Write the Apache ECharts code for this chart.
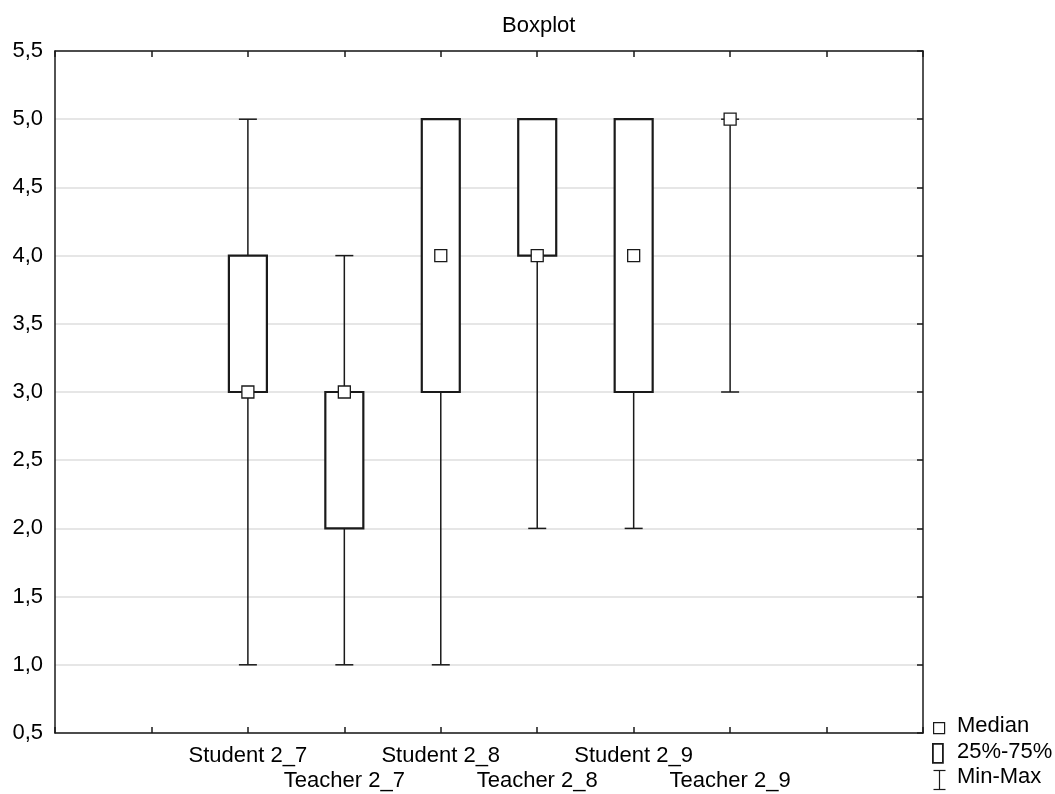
<!DOCTYPE html>
<html>
<head>
<meta charset="utf-8">
<script src="https://cdn.jsdelivr.net/npm/echarts@6/dist/echarts.min.js"></script>
<style>
  html, body { margin: 0; padding: 0; background: #fff; }
  #chart { width: 1055px; height: 794px; }
</style>
</head>
<body>
<div id="chart"></div>
<script>
// data
const names = ['Student 2_7', 'Teacher 2_7', 'Student 2_8', 'Teacher 2_8', 'Student 2_9', 'Teacher 2_9']
const positions = [2, 3, 4, 5, 6, 7]
const minVals = [1, 1, 1, 2, 2, 3]
const q1Vals = [3, 2, 3, 4, 3, 5]
const medianVals = [3, 3, 4, 4, 4, 5]
const q3Vals = [4, 3, 5, 5, 5, 5]
const maxVals = [5, 4, 5, 5, 5, 5]
const yTicks = [0.5, 1, 1.5, 2, 2.5, 3, 3.5, 4, 4.5, 5, 5.5]

const ink = '#1a1a1a'
const font = 'Liberation Sans, Arial, sans-serif'

const boxData = positions.map((p, i) => [p, minVals[i], q1Vals[i], medianVals[i], q3Vals[i], maxVals[i]])
const medianData = positions.map((p, i) => [p, medianVals[i]])

function renderBox(params, api) {
    const x = api.value(0)
    const pMin = api.coord([x, api.value(1)])
    const pQ1 = api.coord([x, api.value(2)])
    const pQ3 = api.coord([x, api.value(4)])
    const pMax = api.coord([x, api.value(5)])
    const boxW = 38
    const capW = 18
    const cx = pMin[0]
    const children = [
        {type: 'line', shape: {x1: cx, y1: pMin[1], x2: cx, y2: pMax[1]},
            style: {stroke: ink, lineWidth: 1.5}},
        {type: 'line', shape: {x1: cx - capW / 2, y1: pMin[1], x2: cx + capW / 2, y2: pMin[1]},
            style: {stroke: ink, lineWidth: 1.5}},
        {type: 'line', shape: {x1: cx - capW / 2, y1: pMax[1], x2: cx + capW / 2, y2: pMax[1]},
            style: {stroke: ink, lineWidth: 1.5}}
    ]
    // a box with no height is not drawn
    if (pQ1[1] - pQ3[1] > 0.5) {
        children.push({type: 'rect', shape: {x: cx - boxW / 2, y: pQ3[1], width: boxW, height: pQ1[1] - pQ3[1]},
            style: {fill: '#fff', stroke: ink, lineWidth: 2.2}})
    }
    return {type: 'group', children: children}
}

const chart = echarts.init(document.getElementById('chart'))
chart.setOption({
    backgroundColor: '#fff',
    animation: false,
    textStyle: {fontFamily: font},
    title: {
        text: 'Boxplot', left: 497, top: 10,
        textStyle: {fontFamily: font, fontSize: 22, fontWeight: 'normal', color: '#000'}
    },
    grid: {left: 55, right: 132, top: 51, bottom: 61},
    xAxis: [{
        type: 'value', min: 0, max: 9, interval: 1,
        axisLine: {onZero: false, lineStyle: {color: ink, width: 1.5}},
        axisTick: {inside: true, length: 6, lineStyle: {color: ink, width: 1.5}},
        splitLine: {show: false},
        axisLabel: {
            margin: 10, fontSize: 22, color: '#000', lineHeight: 25, fontFamily: font,
            formatter: v => {
                const i = positions.indexOf(v)
                if (i < 0) return ''
                return i % 2 === 0 ? names[i] : '\n' + names[i]
            }
        }
    }, {
        type: 'value', min: 0, max: 9, interval: 1, position: 'top',
        axisLine: {show: true, onZero: false, lineStyle: {color: ink, width: 1.5}},
        axisTick: {inside: true, length: 6, lineStyle: {color: ink, width: 1.5}},
        axisLabel: {show: false}, splitLine: {show: false}
    }],
    yAxis: [{
        type: 'value', min: 0.5, max: 5.5, interval: 0.5,
        axisLine: {show: true, onZero: false, lineStyle: {color: ink, width: 1.5}},
        axisTick: {show: false},
        splitLine: {show: true, lineStyle: {color: '#dedede', width: 1.5}},
        axisLabel: {
            margin: 12, fontSize: 22, color: '#000', fontFamily: font,
            formatter: v => yTicks.includes(v) ? v.toFixed(1).replace('.', ',') : ''
        }
    }, {
        type: 'value', min: 0.5, max: 5.5, interval: 0.5, position: 'right',
        axisLine: {show: true, onZero: false, lineStyle: {color: ink, width: 1.5}},
        axisTick: {inside: true, length: 6, lineStyle: {color: ink, width: 1.5}},
        axisLabel: {show: false}, splitLine: {show: false}
    }],
    series: [{
        type: 'custom',
        renderItem: renderBox,
        encode: {x: 0, y: [1, 2, 3, 4, 5]},
        data: boxData,
        z: 3
    }, {
        type: 'scatter',
        symbol: 'rect',
        symbolSize: 12,
        itemStyle: {color: '#fff', borderColor: ink, borderWidth: 1.3, opacity: 1},
        data: medianData,
        z: 5
    }],
    graphic: [
        {type: 'rect', left: 933, top: 722, shape: {width: 11, height: 11},
            style: {fill: '#fff', stroke: ink, lineWidth: 1.2}},
        {type: 'text', left: 957, top: 715,
            style: {text: 'Median', fontSize: 22, fill: '#000', fontFamily: font}},
        {type: 'rect', left: 932, top: 743, shape: {width: 10, height: 19},
            style: {fill: '#fff', stroke: ink, lineWidth: 1.8}},
        {type: 'text', left: 957, top: 741,
            style: {text: '25%-75%', fontSize: 22, fill: '#000', fontFamily: font}},
        {type: 'group', left: 931, top: 768, children: [
            {type: 'line', shape: {x1: 0, y1: 0.5, x2: 12, y2: 0.5}, style: {stroke: ink, lineWidth: 1.2}},
            {type: 'line', shape: {x1: 6, y1: 0.5, x2: 6, y2: 19.5}, style: {stroke: ink, lineWidth: 1.2}},
            {type: 'line', shape: {x1: 0, y1: 19.5, x2: 12, y2: 19.5}, style: {stroke: ink, lineWidth: 1.2}}
        ]},
        {type: 'text', left: 957, top: 766,
            style: {text: 'Min-Max', fontSize: 22, fill: '#000', fontFamily: font}}
    ]
})
</script>
</body>
</html>
